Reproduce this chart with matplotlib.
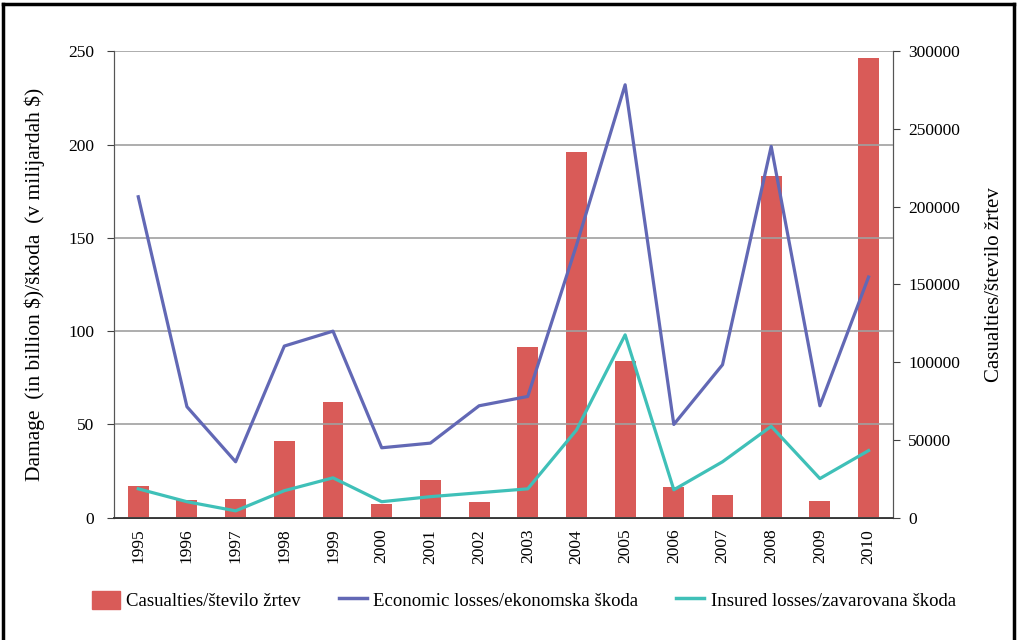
import numpy as np
import matplotlib
matplotlib.use("Agg")
from matplotlib import pyplot as plt
from matplotlib.lines import Line2D
from matplotlib.patches import Patch

plt.rcParams['font.family'] = ['Liberation Serif', 'DejaVu Serif']

years = ['1995', '1996', '1997', '1998', '1999', '2000', '2001', '2002',
         '2003', '2004', '2005', '2006', '2007', '2008', '2009', '2010']
casualties = [20500, 11600, 12200, 49500, 74500, 9000, 24400, 10300,
              109500, 235500, 101000, 19500, 14500, 220000, 11000, 295500]
economic = [172, 59.5, 30, 92, 100, 37.5, 40, 60, 65, 146, 232, 50, 82, 199, 60, 129]
insured = [15.5, 8.6, 3.7, 14.5, 21.4, 8.6, 11.3, 13.4, 15.5, 47, 98, 15, 30, 49, 21, 36]

red = '#D95B58'
blue = '#6268B5'
teal = '#3FC0B8'

fig = plt.figure(figsize=(10.17, 6.4), dpi=100)
ax = fig.add_axes([0.112, 0.191, 0.766, 0.729])
ax2 = ax.twinx()

x = np.arange(len(years))
ax2.bar(x, casualties, width=0.43, color=red, zorder=2)
ax.plot(x, economic, color=blue, lw=2.3, zorder=3)
ax.plot(x, insured, color=teal, lw=2.3, zorder=3)

# lines above bars
ax.set_zorder(ax2.get_zorder() + 1)
ax.patch.set_visible(False)

ax.set_xlim(-0.5, len(years) - 0.5)
ax.set_ylim(0, 250)
ax.set_yticks(np.arange(0, 251, 50))
ax2.set_ylim(0, 300000)
ax2.set_yticks(np.arange(0, 300001, 50000))
ax.yaxis.grid(True, color='#A0A0A0', lw=1.2)
ax2.grid(False)
ax.set_axisbelow(True)

ax.set_xticks(x)
ax.set_xticklabels(years, rotation=90, fontsize=12.5)
ax.tick_params(axis='x', length=0, pad=8)
ax.tick_params(axis='y', labelsize=12.5, length=5, direction='out', color='#404040', pad=9)
ax2.tick_params(axis='y', labelsize=12.5, length=5, direction='out', color='#404040', pad=6)

for a in (ax, ax2):
    a.spines['top'].set_visible(False)
    a.spines['left'].set_color('#555555')
    a.spines['right'].set_color('#555555')
    a.spines['bottom'].set_color('#333333')
    a.spines['bottom'].set_linewidth(1.2)

ax.set_ylabel('Damage  (in billion \\$)/škoda  (v milijardah \\$)', fontsize=15.5, labelpad=17)
ax2.set_ylabel('Casualties/število žrtev', fontsize=15, labelpad=18)

handles = [Patch(color=red),
           Line2D([], [], color=blue, lw=2.5),
           Line2D([], [], color=teal, lw=2.5)]
labels = ['Casualties/število žrtev', 'Economic losses/ekonomska škoda',
          'Insured losses/zavarovana škoda']
fig.legend(handles, labels, loc='center', bbox_to_anchor=(0.515, 0.062), ncol=3,
           frameon=False, fontsize=13.5, handlelength=1.5, handleheight=1.1,
           handletextpad=0.35, columnspacing=2.0)

# frame round the figure
for xs, ys in [((0.003, 0.003), (0.0, 0.993)), ((0.003, 0.997), (0.993, 0.993)),
               ((0.997, 0.997), (0.993, 0.0))]:
    fig.add_artist(Line2D(xs, ys, color='black', lw=2.5, transform=fig.transFigure))

fig.savefig('out.png', dpi=100)
